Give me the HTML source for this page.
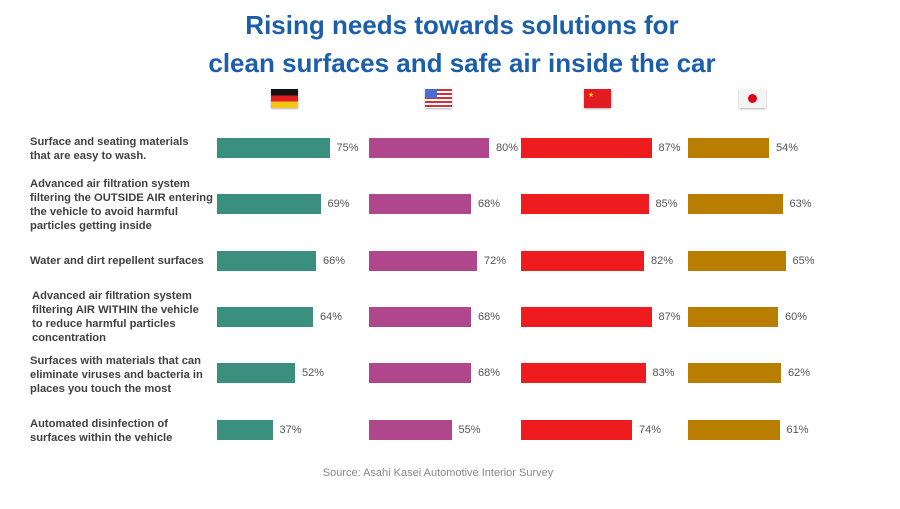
<!DOCTYPE html>
<html><head><meta charset="utf-8"><style>
body{margin:0;width:900px;height:509px;background:#fff;position:relative;font-family:"Liberation Sans",Arial,sans-serif;overflow:hidden}
.t{position:absolute;left:0;width:924px;text-align:center;color:#1b5fab;font-weight:bold;font-size:26px}
.lab{position:absolute;left:30px;font-size:11.2px;font-weight:bold;color:#404040;line-height:14px;white-space:nowrap}
.b{position:absolute;height:20px}
.v{position:absolute;font-size:11px;color:#555;line-height:20px}
.src{position:absolute;left:0;width:876px;text-align:center;top:467px;font-size:11px;color:#888}
.f{position:absolute;top:89px;width:27px;height:19px;box-shadow:0 1px 2px rgba(0,0,0,.3)}
</style></head><body>
<div class="t" style="top:10px">Rising needs towards solutions for</div>
<div class="t" style="top:48px">clean surfaces and safe air inside the car</div>
<div class="f" style="left:271px;background:linear-gradient(#111 0 33%,#e02020 33% 66%,#f5c518 66%)"></div>
<div class="f" style="left:425px;background:repeating-linear-gradient(#d0303a 0 2px,#fff 2px 4px)"><div style="position:absolute;left:0;top:0;width:12px;height:9px;background:#4a6fd0"></div></div>
<div class="f" style="left:584px;background:#e31b23"><div style="position:absolute;left:4px;top:3px;color:#ffd700;font-size:7px;line-height:7px">★</div></div>
<div class="f" style="left:739px;background:#f4f4f4"><div style="position:absolute;left:9px;top:5px;width:9px;height:9px;border-radius:50%;background:#e0001a"></div></div>
<div id="c"></div>
<div class="lab" style="top:135px">Surface and seating materials<br>that are easy to wash.</div>
<div class="lab" style="top:177px">Advanced air filtration system<br>filtering the OUTSIDE AIR entering<br>the vehicle to avoid harmful<br>particles getting inside</div>
<div class="lab" style="top:254px">Water and dirt repellent surfaces</div>
<div class="lab" style="top:289px;left:32px">Advanced air filtration system<br>filtering AIR WITHIN the vehicle<br>to reduce harmful particles<br>concentration</div>
<div class="lab" style="top:354px">Surfaces with materials that can<br>eliminate viruses and bacteria in<br>places you touch the most</div>
<div class="lab" style="top:417px">Automated disinfection of<br>surfaces within the vehicle</div>
<div class="src">Source: Asahi Kasei Automotive Interior Survey</div>
<script>
var d=[[75,80,87,54],[69,68,85,63],[66,72,82,65],[64,68,87,60],[52,68,83,62],[37,55,74,61]];
var ys=[148,204,261,317,373,430],x0=[217,369,521,688],col=["#3a8f7e","#b0478c","#ee1c1f","#b97d00"],s=1.5,h="";
d.forEach(function(r,i){r.forEach(function(v,j){var w=v*s;h+='<div class="b" style="left:'+x0[j]+'px;top:'+(ys[i]-10)+'px;width:'+w+'px;background:'+col[j]+'"></div><div class="v" style="left:'+(x0[j]+w+7)+'px;top:'+(ys[i]-10)+'px">'+v+'%</div>';});});
document.getElementById('c').innerHTML=h;
</script>
</body></html>
